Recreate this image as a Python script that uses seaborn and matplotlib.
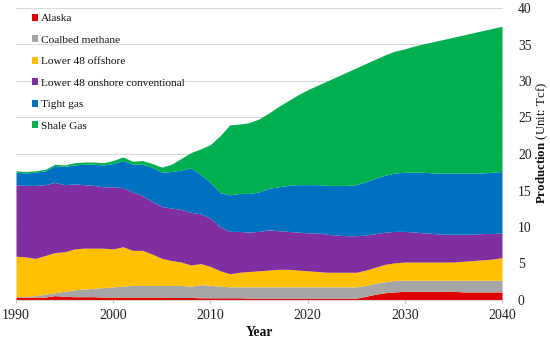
import numpy as np
import pandas as pd
import matplotlib
matplotlib.use("Agg")
import matplotlib.pyplot as plt
from matplotlib.patches import Patch
import seaborn as sns

years = list(range(1990, 2041))

alaska = [0.4, 0.4, 0.4, 0.4, 0.6, 0.5, 0.45, 0.45, 0.45, 0.4,
          0.4, 0.4, 0.4, 0.4, 0.4, 0.4, 0.35, 0.35, 0.35, 0.3,
          0.3, 0.3, 0.3, 0.3, 0.25, 0.25, 0.25, 0.25, 0.25, 0.25,
          0.25, 0.25, 0.25, 0.25, 0.25, 0.25, 0.5, 0.8, 1.0, 1.1,
          1.2, 1.2, 1.2, 1.2, 1.2, 1.2, 1.1, 1.1, 1.1, 1.1, 1.1]
coalbed = [0.05, 0.1, 0.2, 0.4, 0.4, 0.7, 0.95, 1.05, 1.15, 1.3,
           1.4, 1.5, 1.6, 1.6, 1.6, 1.6, 1.65, 1.65, 1.55, 1.8,
           1.7, 1.6, 1.5, 1.5, 1.55, 1.55, 1.55, 1.55, 1.55, 1.55,
           1.55, 1.55, 1.55, 1.55, 1.55, 1.55, 1.5, 1.5, 1.5, 1.6,
           1.5, 1.5, 1.5, 1.5, 1.5, 1.5, 1.6, 1.6, 1.6, 1.6, 1.6]
offshore = [5.55, 5.4, 5.1, 5.3, 5.5, 5.4, 5.6, 5.6, 5.5, 5.4,
            5.2, 5.4, 4.8, 4.8, 4.3, 3.7, 3.4, 3.2, 2.9, 2.9,
            2.6, 2.1, 1.8, 2.0, 2.1, 2.2, 2.3, 2.4, 2.4, 2.3,
            2.2, 2.1, 2.0, 2.0, 2.0, 2.0, 2.1, 2.2, 2.4, 2.4,
            2.5, 2.5, 2.5, 2.5, 2.5, 2.5, 2.6, 2.7, 2.8, 2.9, 3.1]
onshore = [9.8, 9.8, 10.0, 9.7, 9.6, 9.2, 8.9, 8.7, 8.6, 8.4,
           8.5, 8.1, 8.0, 7.5, 7.2, 7.1, 7.2, 7.2, 7.2, 6.8,
           6.6, 6.0, 5.8, 5.6, 5.4, 5.4, 5.5, 5.3, 5.2, 5.2,
           5.2, 5.3, 5.2, 5.1, 5.0, 5.0, 4.8, 4.6, 4.4, 4.3,
           4.2, 4.1, 4.0, 3.9, 3.8, 3.8, 3.7, 3.6, 3.6, 3.5, 3.4]
tight = [1.7, 1.7, 1.8, 1.9, 2.3, 2.5, 2.6, 2.8, 2.9, 3.0,
         3.2, 3.7, 3.8, 4.3, 4.7, 4.7, 5.0, 5.4, 6.1, 5.4,
         4.9, 4.7, 5.0, 5.2, 5.3, 5.4, 5.7, 6.0, 6.3, 6.5,
         6.6, 6.6, 6.7, 6.8, 6.9, 7.0, 7.3, 7.6, 7.8, 8.0,
         8.1, 8.2, 8.3, 8.3, 8.4, 8.4, 8.4, 8.4, 8.3, 8.4, 8.4]
shale = [0.2, 0.2, 0.2, 0.2, 0.2, 0.2, 0.3, 0.3, 0.3, 0.3,
         0.4, 0.5, 0.4, 0.5, 0.5, 0.7, 1.0, 1.6, 2.1, 3.5,
         5.2, 7.8, 9.6, 9.5, 9.7, 10.0, 10.3, 11.0, 11.6, 12.3,
         13.0, 13.6, 14.3, 14.9, 15.5, 16.0, 16.2, 16.3, 16.5, 16.7,
         16.9, 17.3, 17.6, 18.0, 18.3, 18.6, 18.9, 19.2, 19.5, 19.7, 19.9]

labels = ["Alaska", "Coalbed methane", "Lower 48 offshore",
          "Lower 48 onshore conventional", "Tight gas", "Shale Gas"]
colors = ["#E00000", "#A6A6A6", "#FFC000", "#7F2FA0", "#0070C0", "#00B050"]
x_ticks = [1990, 2000, 2010, 2020, 2030, 2040]
y_ticks = [0, 5, 10, 15, 20, 25, 30, 35, 40]

df = pd.DataFrame({"Year": years, labels[0]: alaska, labels[1]: coalbed,
                   labels[2]: offshore, labels[3]: onshore,
                   labels[4]: tight, labels[5]: shale})

sns.set_theme(style="white")
plt.rcParams["font.family"] = ["Liberation Serif", "DejaVu Serif"]
plt.rcParams["mathtext.fontset"] = "custom"
plt.rcParams["mathtext.rm"] = "Liberation Serif"
plt.rcParams["mathtext.bf"] = "Liberation Serif:bold"

palette = sns.color_palette(colors)

fig = plt.figure(figsize=(5.5, 3.39), dpi=100)
ax = fig.add_axes([16 / 550, 1 - 300 / 339, 486 / 550, 292 / 339])

ax.stackplot(df["Year"], *[df[l] for l in labels], colors=palette,
             linewidth=0, zorder=2)

ax.set_xlim(1990, 2040)
ax.set_ylim(0, 40)
ax.set_xticks(x_ticks)
ax.set_yticks(y_ticks)
ax.yaxis.tick_right()
ax.yaxis.grid(True, color="#D9D9D9", linewidth=0.8, zorder=0)
for gl in ax.yaxis.get_gridlines():
    gl.set_clip_on(False)
ax.set_axisbelow(True)
sns.despine(ax=ax, left=True, right=True, top=True, bottom=False)
ax.spines["bottom"].set_color("#D9D9D9")
ax.spines["bottom"].set_linewidth(0.8)
ax.spines["bottom"].set_zorder(3)
ax.tick_params(axis="x", bottom=True, length=2.5, width=0.8, color="#BFBFBF",
               labelsize=10, pad=4, labelcolor="#222222")
ax.tick_params(axis="y", right=False, left=False, labelright=True,
               labelleft=False, labelsize=9.8, pad=5.5, labelcolor="#222222")

ax.set_xlabel("Year", fontweight="bold", fontsize=9.8, color="#111111")
ax.xaxis.set_label_coords(0.5, -0.09)
fig.text(542 / 550, 1 - 143 / 339, r"$\bf{Production}$ (Unit: Tcf)",
         fontsize=9.3, color="#111111", rotation=90, ha="center", va="center")

handles = [Patch(facecolor=c, edgecolor="none") for c in palette]
leg = ax.legend(handles, labels, loc="upper left",
                bbox_to_anchor=(32 / 550, 1 - 14 / 339),
                bbox_transform=fig.transFigure, frameon=False,
                fontsize=8.2, handlelength=0.55, handleheight=0.55,
                handletextpad=0.25, labelspacing=1.05, borderpad=0,
                borderaxespad=0)
for t in leg.get_texts():
    t.set_color("#111111")

fig.savefig("out.png", dpi=100)
